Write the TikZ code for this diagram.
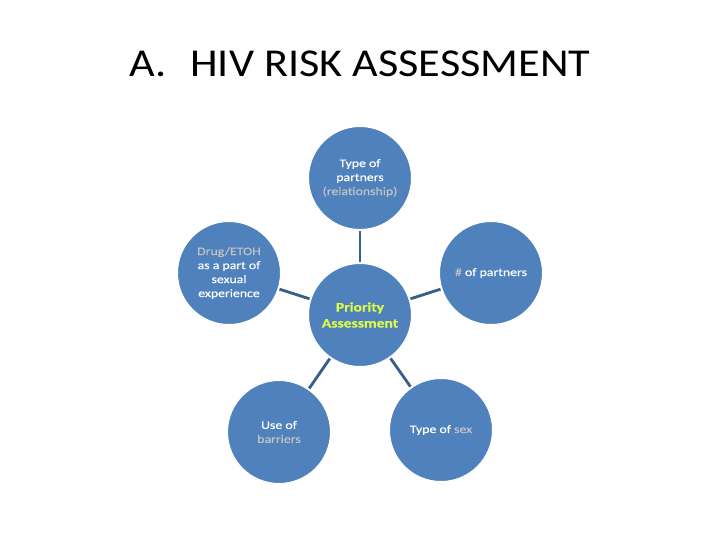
\documentclass[tikz,border=0pt]{standalone}
\usepackage{fontspec}
\setmainfont{Carlito}
\newfontfamily\titlefont[FakeStretch=1.12]{Carlito}
\newfontfamily\bubfont[FakeStretch=1.2,FakeBold=0.4]{Carlito}
\definecolor{circfill}{RGB}{79,129,189}
\definecolor{linecol}{RGB}{56,93,138}
\definecolor{ltgray}{RGB}{195,195,195}
\definecolor{prio}{RGB}{222,252,70}
\begin{document}
\begin{tikzpicture}[x=1pt,y=-1pt,
  bub/.style={circle,fill=circfill,draw=white,line width=1pt,minimum size=103pt,inner sep=0pt,
    text=white,align=center,font=\bubfont\fontsize{11.5}{14}\selectfont},
  conn/.style={draw=linecol,line width=2.8pt,shorten <=1pt,shorten >=1pt}]
\useasboundingbox (0,0) rectangle (720,540);
\fill[white] (0,0) rectangle (720,540);
\node (title) at (360,64) {\titlefont\fontsize{39.5}{46}\selectfont A.\hspace{0.6em}HIV RISK ASSESSMENT};
\node[bub,text=prio,font=\bubfont\fontsize{13}{16}\selectfont\bfseries] (c) at (360,315) {Priority\\Assessment};
\node[bub] (t) at (360,178) {Type of\\partners\\\textcolor{ltgray}{(relationship)}};
\node[bub] (l) at (229,273) {\textcolor{ltgray}{Drug/ETOH}\\as a part of\\sexual\\experience};
\node[bub] (r) at (491,273) {\textcolor{ltgray}{\#} of partners};
\node[bub] (bl) at (279,432) {Use of\\\textcolor{ltgray}{barriers}};
\node[bub] (br) at (441,430) {Type of \textcolor{ltgray}{sex}};
\draw[conn] (c) -- (t);
\draw[conn] (c) -- (l);
\draw[conn] (c) -- (r);
\draw[conn] (c) -- (bl);
\draw[conn] (c) -- (br);
\end{tikzpicture}
\end{document}
